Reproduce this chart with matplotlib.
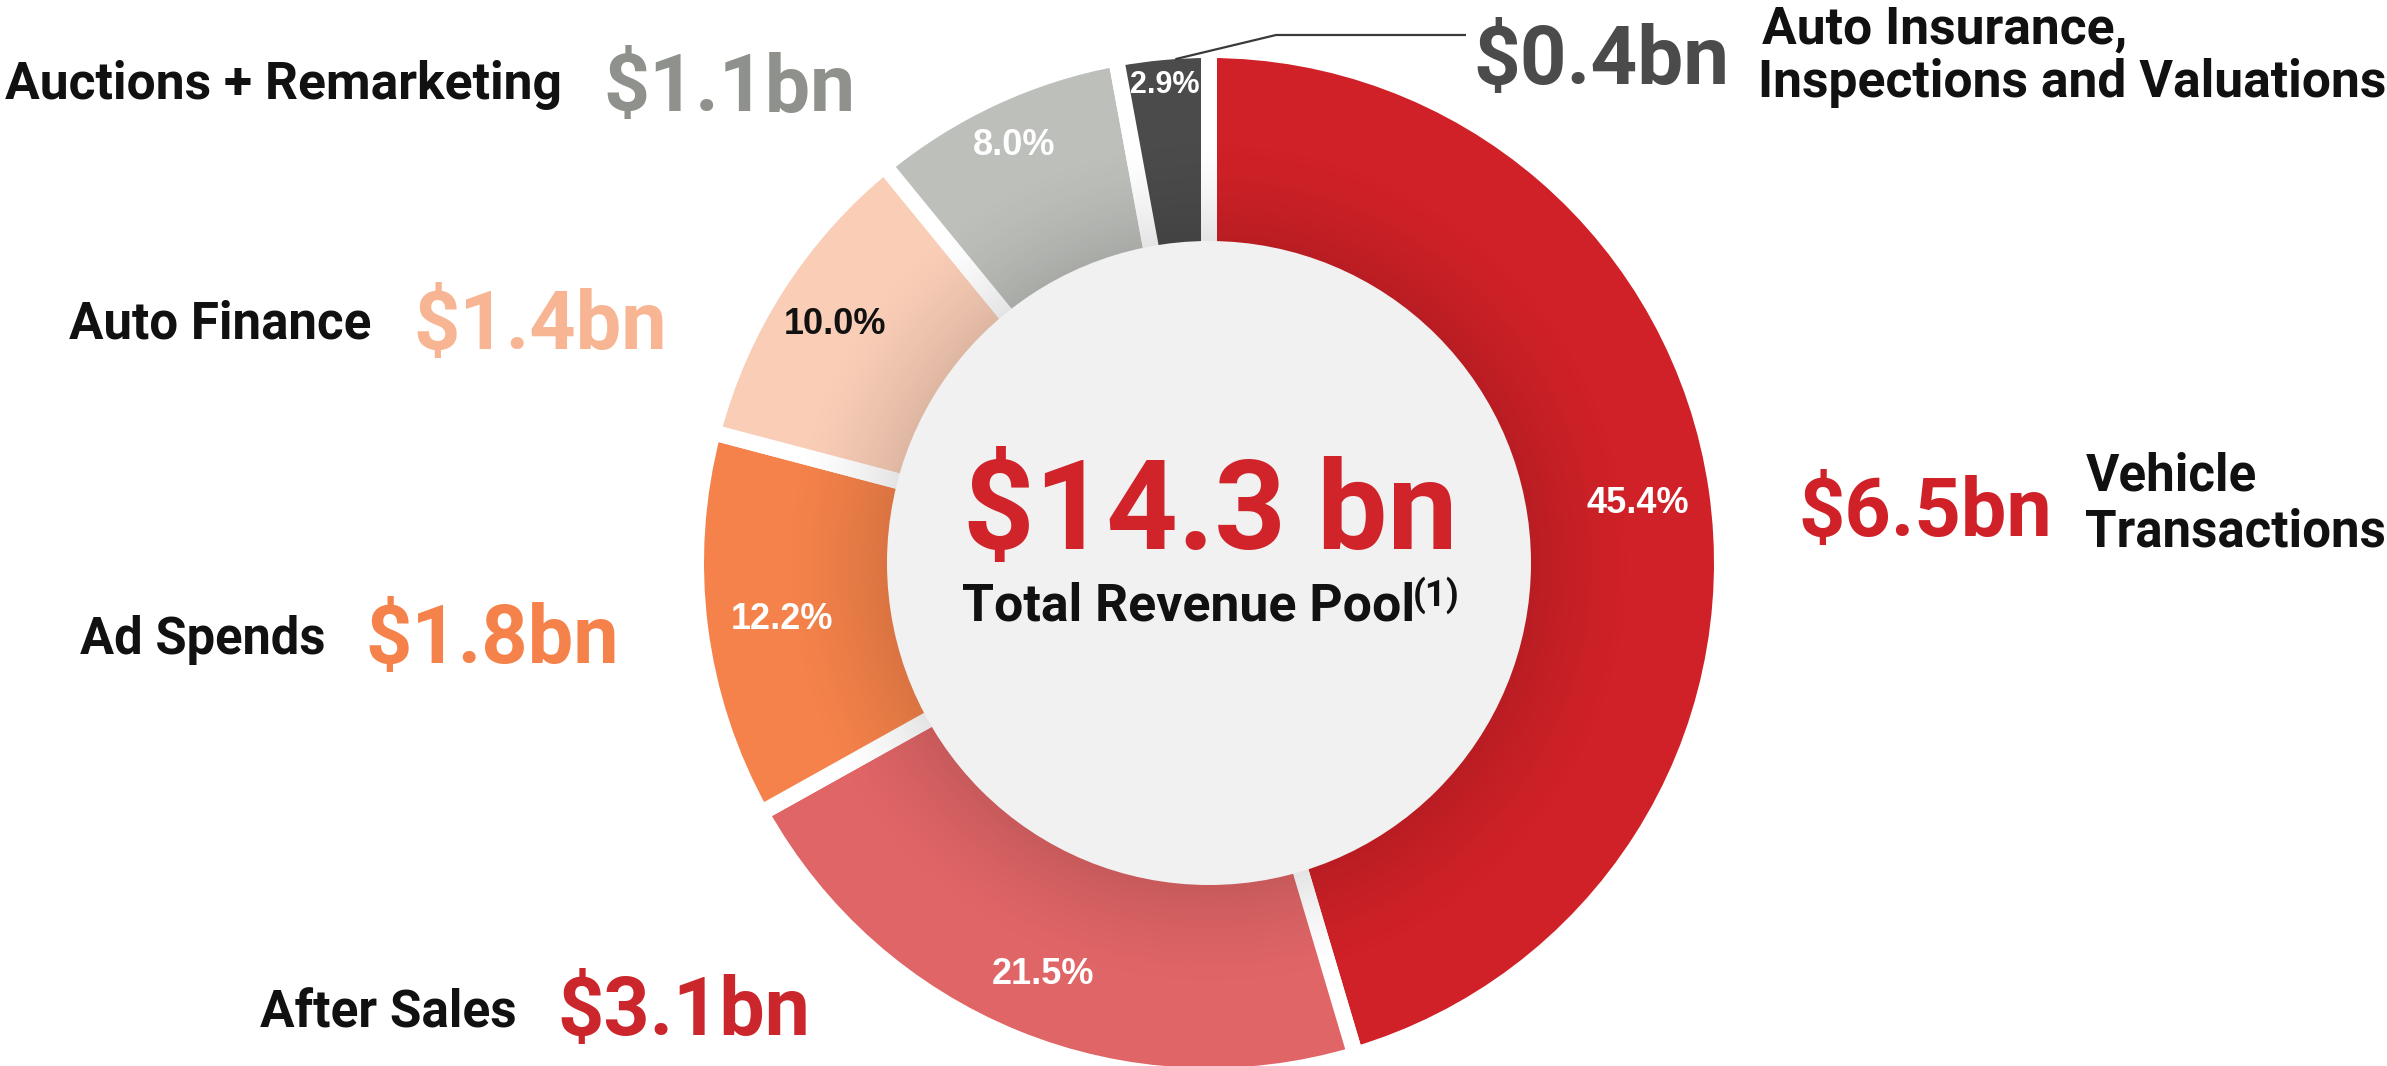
import numpy as np
import matplotlib
matplotlib.use("Agg")
import matplotlib.pyplot as plt
from matplotlib import font_manager
from matplotlib.font_manager import FontProperties
from matplotlib.textpath import TextPath
from matplotlib.patches import Circle

# ---------------- data ----------------
categories = ["Vehicle Transactions", "After Sales", "Ad Spends", "Auto Finance",
              "Auctions + Remarketing", "Auto Insurance, Inspections and Valuations"]
label_lines = [["Vehicle", "Transactions"], ["After Sales"], ["Ad Spends"], ["Auto Finance"],
               ["Auctions + Remarketing"], ["Auto Insurance,", "Inspections and Valuations"]]
shares = [45.4, 21.5, 12.2, 10.0, 8.0, 2.9]
revenue_bn = [6.5, 3.1, 1.8, 1.4, 1.1, 0.4]
total_bn = 14.3
center_caption = "Total Revenue Pool"
footnote_mark = "(1)"

# ---------------- style ----------------
slice_colors = ["#CF2127", "#E06567", "#F4824A", "#F9CDB6", "#BDBFBB", "#4B4B4B"]
value_colors = ["#CF2127", "#CB262B", "#F4824A", "#F7B593", "#8E918C", "#4B4B4B"]
pct_colors = ["white", "white", "white", "#111111", "white", "white"]
pct_sizes = [26, 26, 26, 26, 26, 22]
pct_rfrac = [0.844, 0.86, 0.838, 0.868, 0.904, 0.94]

W, H = 2387, 1066
DPI = 100
PX = DPI / 72.0


def pick(cands):
    names = {f.name for f in font_manager.fontManager.ttflist}
    for c in cands:
        if c in names:
            return c
    return "DejaVu Sans"


HEAD = pick(["Roboto", "Open Sans", "Noto Sans", "Lato", "DejaVu Sans"])
PCTF = pick(["Liberation Sans", "Arial", "DejaVu Sans"])

fig = plt.figure(figsize=(W / DPI, H / DPI), dpi=DPI)
ax = fig.add_axes([0, 0, 1, 1])

CX, CY = 1209, H - 563
R_OUT, R_IN = 513, 322
GAP = 16

wedges, _ = ax.pie(shares, colors=slice_colors, startangle=90, counterclock=False,
                   center=(CX, CY), radius=R_OUT, frame=True,
                   wedgeprops=dict(edgecolor="white", linewidth=GAP / PX))
for w in wedges:
    w.set_zorder(1)

# soft inner shadow
n = 700
xs = np.linspace(CX - R_OUT, CX + R_OUT, n)
ys = np.linspace(CY - R_OUT, CY + R_OUT, n)
X, Y = np.meshgrid(xs, ys)
RR = np.hypot(X - CX, Y - CY)
alpha = np.clip(1 - (RR - R_IN) / 110.0, 0, 1) ** 1.6 * 0.11
alpha[RR > R_OUT - GAP / 2] = 0
img = np.zeros((n, n, 4))
img[..., 3] = alpha
ax.imshow(img, extent=(CX - R_OUT, CX + R_OUT, CY - R_OUT, CY + R_OUT),
          origin="lower", zorder=2, interpolation="bilinear")

ax.add_patch(Circle((CX, CY), R_IN, facecolor="#F1F1F1", edgecolor="none", zorder=3))


def cap_ratio(fp):
    e = TextPath((0, 0), "H", size=100, prop=fp).get_extents()
    return e.y1 / 100.0


def put(s, left, right, cy, cap, color, family=HEAD, size=None, anchor="center", z=5):
    fp = FontProperties(family=family, weight="bold")
    e = TextPath((0, 0), s, size=100, prop=fp).get_extents()
    cr = cap_ratio(fp)
    if size is None:
        s_w = 100.0 * (right - left) / ((e.x1 - e.x0) * PX)
        s_h = cap / (cr * PX)
        size = np.sqrt(s_w * s_h)
    x0s = e.x0 * size / 100.0 * PX
    x1s = e.x1 * size / 100.0 * PX
    if anchor == "center":
        xpos = (left + right) / 2 - (x0s + x1s) / 2
    elif anchor == "left":
        xpos = left - x0s
    else:
        xpos = right - x1s
    ybase = H - (cy + cr * size * PX / 2)
    fp2 = fp.copy()
    fp2.set_size(size)
    ax.text(xpos, ybase, s, fontproperties=fp2, color=color, ha="left",
            va="baseline", zorder=z)
    return size, xpos + x1s


# category label layout (pixel boxes)
label_box = [(2086, 2380, [472, 528]), (262, 513, [1009]), (84, 320, [636]),
             (72, 368, [320]), (8, 557, [81]), (1762, 2380, [25, 79])]
value_box = [(1801, 2050, 507), (560, 807, 1006), (368, 617, 634),
             (416, 665, 320), (607, 852, 82), (1475, 1728, 55)]

for i in range(len(categories)):
    left, right, cys = label_box[i]
    lines = label_lines[i]
    if len(lines) == 1:
        put(lines[0], left, right, cys[0], 37, "#111111")
    else:
        longest = max(range(len(lines)), key=lambda k: len(lines[k]))
        size, _ = put(lines[longest], left, right, cys[longest], 37, "#111111", anchor="left")
        for k, ln in enumerate(lines):
            if k != longest:
                put(ln, left, right, cys[k], 37, "#111111", size=size, anchor="left")
    vl, vr, vcy = value_box[i]
    put(f"${revenue_bn[i]:.1f}bn", vl, vr, vcy, 57, value_colors[i])

# center text
put(f"${total_bn:.1f} bn", 963, 1456, 505, 87, "#D0232A")
_, xend = put(center_caption, 965, 1410, 602, 37, "#111111")
put(footnote_mark, xend + 3, xend + 44, 593, 27, "#111111", anchor="left")

# percent labels
fpp = FontProperties(family=PCTF, weight="bold")
crp = cap_ratio(fpp)
for i, w in enumerate(wedges):
    mid = np.deg2rad((w.theta1 + w.theta2) / 2)
    r = pct_rfrac[i] * R_OUT
    x = CX + r * np.cos(mid)
    y = CY + r * np.sin(mid)
    ax.text(x, y - crp * pct_sizes[i] * PX / 2, f"{shares[i]:.1f}%", family=PCTF,
            weight="bold", fontsize=pct_sizes[i], color=pct_colors[i],
            ha="center", va="baseline", zorder=6)

# connector for the smallest slice
wl = wedges[-1]
ang = np.deg2rad((wl.theta1 + wl.theta2) / 2 - 1.4)
sx = CX + (R_OUT - GAP / 2) * np.cos(ang)
sy = CY + (R_OUT - GAP / 2) * np.sin(ang)
ax.plot([sx, 1276, 1466], [sy, H - 35, H - 35], color="#3A3A3A", lw=1.6,
        solid_capstyle="butt", zorder=4)

ax.set_xlim(0, W)
ax.set_ylim(0, H)
ax.set_aspect("equal")
ax.axis("off")
fig.savefig("out.png", dpi=DPI, facecolor="white")
